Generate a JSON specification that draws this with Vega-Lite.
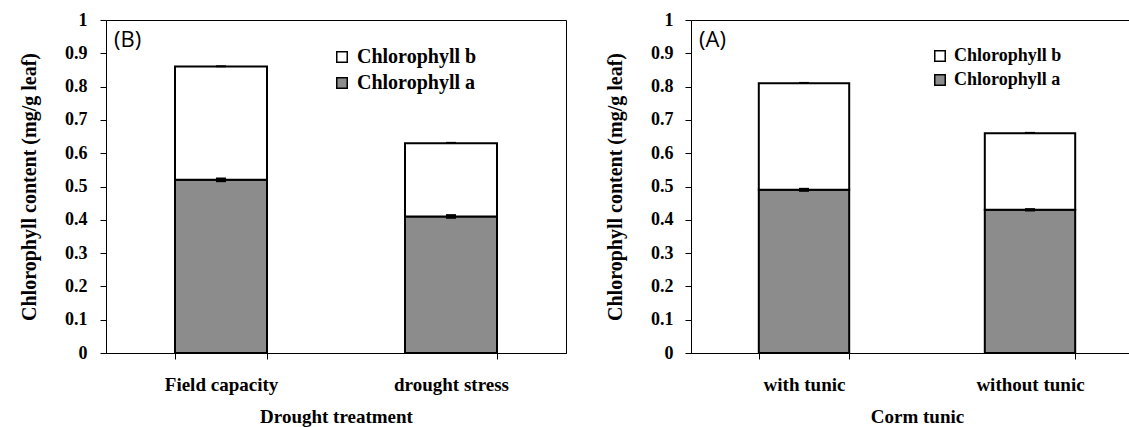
{
  "$schema": "https://vega.github.io/schema/vega-lite/v6.json",
  "background": "white",
  "padding": {"left": 19, "top": 10, "right": 0, "bottom": 0},
  "autosize": {"type": "pad"},
  "bounds": "flush",
  "spacing": 125,
  "datasets": {
    "B": [
      {"cat": "Field capacity", "pigment": "Chlorophyll a", "value": 0.52},
      {"cat": "Field capacity", "pigment": "Chlorophyll b", "value": 0.34},
      {"cat": "drought stress", "pigment": "Chlorophyll a", "value": 0.41},
      {"cat": "drought stress", "pigment": "Chlorophyll b", "value": 0.22}
    ],
    "Berr": [
      {"cat": "Field capacity", "lo": 0.513, "hi": 0.527},
      {"cat": "Field capacity", "lo": 0.858, "hi": 0.864},
      {"cat": "drought stress", "lo": 0.403, "hi": 0.417},
      {"cat": "drought stress", "lo": 0.628, "hi": 0.634}
    ],
    "A": [
      {"cat": "with tunic", "pigment": "Chlorophyll a", "value": 0.49},
      {"cat": "with tunic", "pigment": "Chlorophyll b", "value": 0.32},
      {"cat": "without tunic", "pigment": "Chlorophyll a", "value": 0.43},
      {"cat": "without tunic", "pigment": "Chlorophyll b", "value": 0.23}
    ],
    "Aerr": [
      {"cat": "with tunic", "lo": 0.484, "hi": 0.496},
      {"cat": "with tunic", "lo": 0.808, "hi": 0.814},
      {"cat": "without tunic", "lo": 0.425, "hi": 0.435},
      {"cat": "without tunic", "lo": 0.658, "hi": 0.664}
    ]
  },
  "config": {
    "view": {"stroke": "black", "strokeWidth": 1},
    "axis": {
      "domainColor": "black", "tickColor": "black", "labelColor": "black", "titleColor": "black",
      "labelFont": "Liberation Serif", "titleFont": "Liberation Serif",
      "labelFontWeight": "bold", "titleFontWeight": "bold", "grid": false, "domainWidth": 1, "tickWidth": 1,
      "labelOverlap": false
    },
    "legend": {
      "orient": "none", "title": null, "direction": "vertical",
      "labelFont": "Liberation Serif", "labelFontWeight": "bold", "labelColor": "black",
      "symbolType": "square", "symbolSize": 110, "symbolStrokeColor": "black", "symbolStrokeWidth": 1.5,
      "rowPadding": 6, "labelOffset": 5, "labelLimit": 300
    }
  },
  "resolve": {"scale": {"fill": "independent"}, "legend": {"fill": "independent"}},
  "hconcat": [
    {
      "width": 460,
      "height": 333,
      "title": {"text": "(B)", "anchor": "start", "frame": "group", "orient": "top", "offset": -41, "dx": 8, "font": "Open Sans", "fontSize": 22, "fontWeight": "normal", "color": "black"},
      "layer": [
        {
          "data": {"name": "B"},
          "mark": {"type": "bar", "stroke": "black", "strokeWidth": 2},
          "encoding": {
            "x": {
              "field": "cat", "type": "nominal", "sort": ["Field capacity", "drought stress"],
              "scale": {"paddingInner": 0.6, "paddingOuter": 0.3},
              "title": "Drought treatment",
              "axis": {"labelAngle": 0, "tickBand": "extent", "tickSize": 6, "labelFontSize": 19, "titleFontSize": 19, "labelPadding": 16, "titlePadding": 13}
            },
            "y": {
              "field": "value", "type": "quantitative", "stack": "zero",
              "scale": {"domain": [0, 1], "nice": false},
              "title": "Chlorophyll content (mg/g leaf)",
              "axis": {"values": [0, 0.1, 0.2, 0.3, 0.4, 0.5, 0.6, 0.7, 0.8, 0.9, 1], "format": ".1~f", "tickSize": 6, "labelFontSize": 18, "titleFontSize": 20, "labelPadding": 13, "titlePadding": 25, "labelFlush": false, "labelOverlap": false}
            },
            "fill": {
              "field": "pigment", "type": "nominal",
              "scale": {"domain": ["Chlorophyll b", "Chlorophyll a"], "range": ["#ffffff", "#8c8c8c"]},
              "legend": {"legendX": 226, "legendY": 27, "labelFontSize": 20}
            },
            "order": {"field": "pigment", "sort": "ascending"}
          }
        },
        {
          "data": {"name": "Berr"},
          "mark": {"type": "bar", "width": 10, "fill": "black"},
          "encoding": {
            "x": {"field": "cat", "type": "nominal", "sort": ["Field capacity", "drought stress"], "axis": {"labelAngle": 0, "tickBand": "extent", "tickSize": 6, "labelFontSize": 19, "titleFontSize": 19, "labelPadding": 16, "titlePadding": 13}, "title": "Drought treatment"},
            "y": {"field": "lo", "type": "quantitative", "title": "Chlorophyll content (mg/g leaf)",
              "axis": {"values": [0, 0.1, 0.2, 0.3, 0.4, 0.5, 0.6, 0.7, 0.8, 0.9, 1], "format": ".1~f", "tickSize": 6, "labelFontSize": 18, "titleFontSize": 20, "labelPadding": 13, "titlePadding": 25, "labelFlush": false, "labelOverlap": false}},
            "y2": {"field": "hi"}
          }
        }
      ]
    },
    {
      "width": 452,
      "height": 333,
      "title": {"text": "(A)", "anchor": "start", "frame": "group", "orient": "top", "offset": -41, "dx": 8, "font": "Open Sans", "fontSize": 22, "fontWeight": "normal", "color": "black"},
      "layer": [
        {
          "data": {"name": "A"},
          "mark": {"type": "bar", "stroke": "black", "strokeWidth": 2},
          "encoding": {
            "x": {
              "field": "cat", "type": "nominal", "sort": ["with tunic", "without tunic"],
              "scale": {"paddingInner": 0.6, "paddingOuter": 0.3},
              "title": "Corm tunic",
              "axis": {"labelAngle": 0, "tickBand": "extent", "tickSize": 6, "labelFontSize": 19, "titleFontSize": 19, "labelPadding": 16, "titlePadding": 13}
            },
            "y": {
              "field": "value", "type": "quantitative", "stack": "zero",
              "scale": {"domain": [0, 1], "nice": false},
              "title": "Chlorophyll content (mg/g leaf)",
              "axis": {"values": [0, 0.1, 0.2, 0.3, 0.4, 0.5, 0.6, 0.7, 0.8, 0.9, 1], "format": ".1~f", "tickSize": 6, "labelFontSize": 18, "titleFontSize": 20, "labelPadding": 12, "titlePadding": 25, "labelFlush": false, "labelOverlap": false}
            },
            "fill": {
              "field": "pigment", "type": "nominal",
              "scale": {"domain": ["Chlorophyll b", "Chlorophyll a"], "range": ["#ffffff", "#8c8c8c"]},
              "legend": {"legendX": 240, "legendY": 27, "labelFontSize": 18}
            },
            "order": {"field": "pigment", "sort": "ascending"}
          }
        },
        {
          "data": {"name": "Aerr"},
          "mark": {"type": "bar", "width": 10, "fill": "black"},
          "encoding": {
            "x": {"field": "cat", "type": "nominal", "sort": ["with tunic", "without tunic"], "axis": {"labelAngle": 0, "tickBand": "extent", "tickSize": 6, "labelFontSize": 19, "titleFontSize": 19, "labelPadding": 16, "titlePadding": 13}, "title": "Corm tunic"},
            "y": {"field": "lo", "type": "quantitative", "title": "Chlorophyll content (mg/g leaf)",
              "axis": {"values": [0, 0.1, 0.2, 0.3, 0.4, 0.5, 0.6, 0.7, 0.8, 0.9, 1], "format": ".1~f", "tickSize": 6, "labelFontSize": 18, "titleFontSize": 20, "labelPadding": 12, "titlePadding": 25, "labelFlush": false, "labelOverlap": false}},
            "y2": {"field": "hi"}
          }
        }
      ]
    }
  ]
}
